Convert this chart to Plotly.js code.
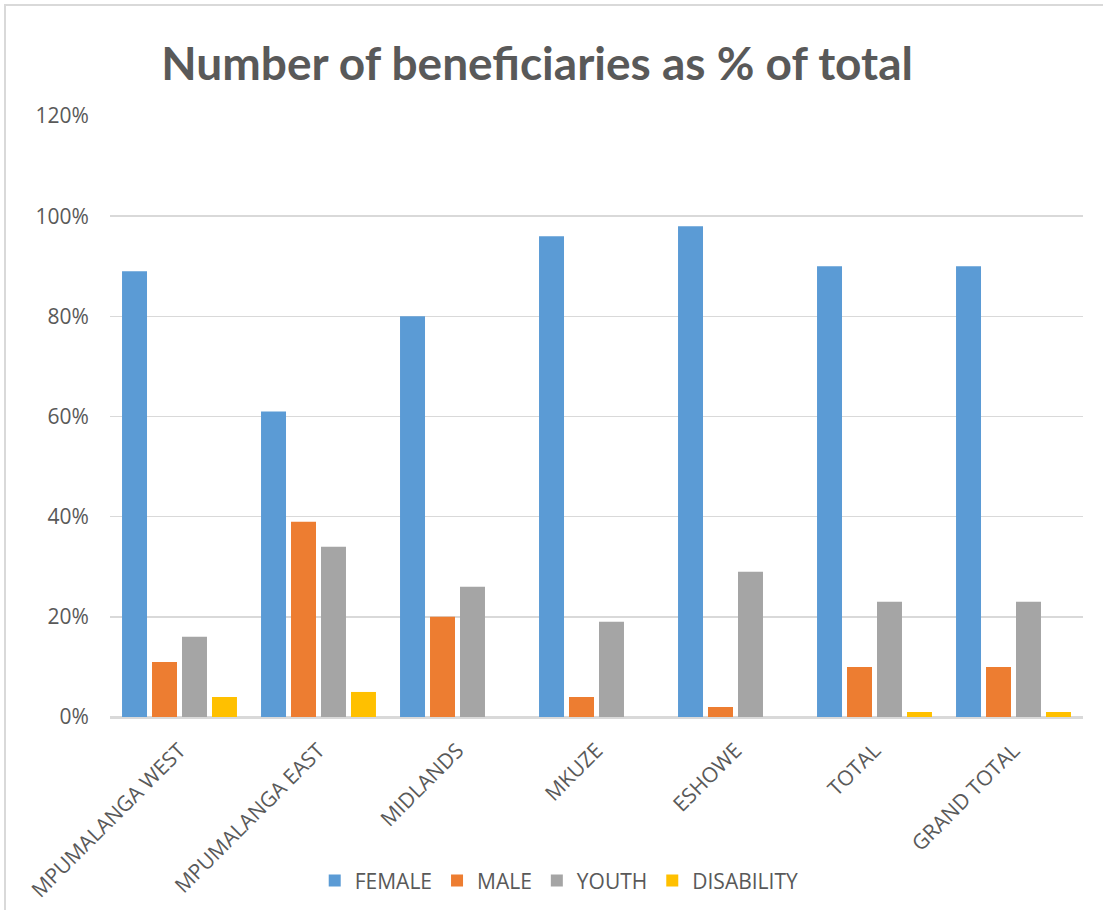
<!DOCTYPE html>
<html>
<head>
<meta charset="utf-8">
<script src="https://cdn.plot.ly/plotly-3.0.1.min.js"></script>
<style>
  html, body { margin: 0; padding: 0; background: #ffffff; }
  #wrap { position: relative; width: 1103px; height: 910px; overflow: hidden; }
  #frame { position: absolute; left: 4px; top: 4px; width: 1200px; height: 1000px;
           border-left: 2px solid #d9d9d9; border-top: 2px solid #d9d9d9; pointer-events: none; }
  #chart { position: absolute; left: 0; top: 0; width: 1103px; height: 910px; }
</style>
</head>
<body>
<div id="wrap">
  <div id="chart"></div>
  <div id="frame"></div>
</div>
<script>
const categories = ["MPUMALANGA WEST", "MPUMALANGA EAST", "MIDLANDS", "MKUZE", "ESHOWE", "TOTAL", "GRAND TOTAL"];
const female     = [89, 61, 80, 96, 98, 90, 90];
const male       = [11, 39, 20, 4, 2, 10, 10];
const youth      = [16, 34, 26, 19, 29, 23, 23];
const disability = [4, 5, 0, 0, 0, 1, 1];
const yTicks     = [0, 20, 40, 60, 80, 100, 120];

const seriesNames  = ["FEMALE", "MALE", "YOUTH", "DISABILITY"];
const seriesValues = [female, male, youth, disability];
const seriesColors = ["#5B9BD5", "#ED7D31", "#A5A5A5", "#FFC000"];

const textColor = "#595959";
const baseFont = "'Open Sans', 'Segoe UI', sans-serif";

const traces = seriesNames.map((name, i) => ({
  type: "bar",
  name: name,
  x: categories,
  y: seriesValues[i],
  marker: { color: seriesColors[i], line: { width: 0 } },
  hoverinfo: "x+y+name"
}));

const layout = {
  width: 1103,
  height: 910,
  paper_bgcolor: "#ffffff",
  plot_bgcolor: "#ffffff",
  margin: { l: 110, r: 20, t: 116, b: 193 },
  barmode: "group",
  bargap: 0.137,
  bargroupgap: 0.167,
  font: { family: baseFont, size: 21, color: textColor },
  title: {
    text: "<b>Number of beneficiaries as % of total</b>",
    font: { family: "Lato, 'Open Sans', sans-serif", size: 46, color: textColor },
    xref: "container", x: 0.487, xanchor: "center",
    yref: "container", y: 0.93, yanchor: "middle"
  },
  xaxis: {
    type: "category",
    tickangle: -45,
    tickfont: { family: baseFont, size: 21, color: textColor },
    ticks: "outside", ticklen: 12, tickcolor: "rgba(0,0,0,0)",
    showline: false,
    showgrid: false,
    zeroline: false
  },
  yaxis: {
    range: [0, 120],
    tickvals: yTicks,
    ticktext: yTicks.map(v => v + "%"),
    tickfont: { family: baseFont, size: 21, color: textColor },
    ticks: "outside", ticklen: 16, tickcolor: "rgba(0,0,0,0)",
    showgrid: true, gridcolor: "#d9d9d9", gridwidth: 1.5,
    zeroline: true, zerolinecolor: "#d9d9d9", zerolinewidth: 3,
    showline: false
  },
  legend: {
    orientation: "h",
    xref: "container", x: 0.507, xanchor: "center",
    yref: "container", y: 0.032, yanchor: "middle",
    font: { family: baseFont, size: 21, color: textColor },
    itemwidth: 30,
    traceorder: "normal"
  },
  showlegend: true
};

Plotly.newPlot("chart", traces, layout, { displayModeBar: false, staticPlot: true });
</script>
</body>
</html>
